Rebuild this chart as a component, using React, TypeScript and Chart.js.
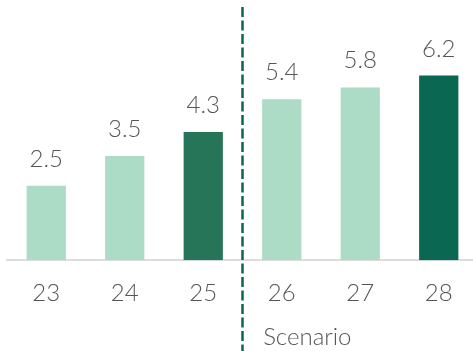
import React, { useEffect, useRef } from "react";
import { Chart, registerables } from "chart.js";

Chart.register(...registerables);

const categories = ["23", "24", "25", "26", "27", "28"];
const values = [2.5, 3.5, 4.3, 5.4, 5.8, 6.2];
const valueLabels = ["2.5", "3.5", "4.3", "5.4", "5.8", "6.2"];
const barColors = ["#acdcc5", "#acdcc5", "#277558", "#acdcc5", "#acdcc5", "#0a6751"];
const scenarioLabel = "Scenario";
const dividerAfterIndex = 2;

const FONT = "Lato, 'Open Sans', sans-serif";

export default function App() {
  const ref = useRef<HTMLCanvasElement | null>(null);

  useEffect(() => {
    document.body.style.margin = "0";
    const canvas = ref.current;
    if (!canvas) return;

    const overlay = {
      id: "overlay",
      afterDatasetsDraw(chart: any) {
        const { ctx, chartArea } = chart;
        const meta = chart.getDatasetMeta(0);
        ctx.save();
        ctx.fillStyle = "#555555";
        ctx.font = `300 24px ${FONT}`;
        ctx.textAlign = "center";
        ctx.textBaseline = "alphabetic";
        meta.data.forEach((bar: any, i: number) => {
          ctx.fillText(valueLabels[i], bar.x, bar.y - 19);
        });
        // divider
        const a = meta.data[dividerAfterIndex];
        const b = meta.data[dividerAfterIndex + 1];
        const x = (a.x + b.x) / 2;
        ctx.strokeStyle = "#0a6751";
        ctx.lineWidth = 2.5;
        ctx.setLineDash([10, 3.5]);
        ctx.beginPath();
        ctx.moveTo(x, chartArea.top);
        ctx.lineTo(x, chart.height);
        ctx.stroke();
        ctx.setLineDash([]);
        // scenario label
        ctx.textAlign = "left";
        ctx.font = `300 24px ${FONT}`;
        ctx.fillText(scenarioLabel, b.x - b.width / 2 + 1, 345);
        ctx.restore();
      },
    };

    const chart = new Chart(canvas, {
      type: "bar",
      data: {
        labels: categories,
        datasets: [
          {
            data: values,
            backgroundColor: barColors,
            categoryPercentage: 1,
            barPercentage: 0.5,
          },
        ],
      },
      options: {
        responsive: false,
        animation: false,
        layout: { padding: { left: 7, right: 0, top: 7, bottom: 24 } },
        plugins: { legend: { display: false }, tooltip: { enabled: false } },
        scales: {
          x: {
            grid: { display: false, drawTicks: false },
            border: { display: true, color: "#dddddd", width: 2 },
            ticks: {
              color: "#555555",
              font: { family: FONT, size: 24, weight: "300" },
              padding: 19,
            },
          },
          y: {
            display: false,
            min: 0,
            max: 8.5,
          },
        },
      },
      plugins: [overlay],
    });
    return () => chart.destroy();
  }, []);

  return (
    <div style={{ position: "relative", width: 473, height: 351, overflow: "hidden" }}>
      <canvas ref={ref} width={478} height={351} style={{ display: "block" }} />
    </div>
  );
}
